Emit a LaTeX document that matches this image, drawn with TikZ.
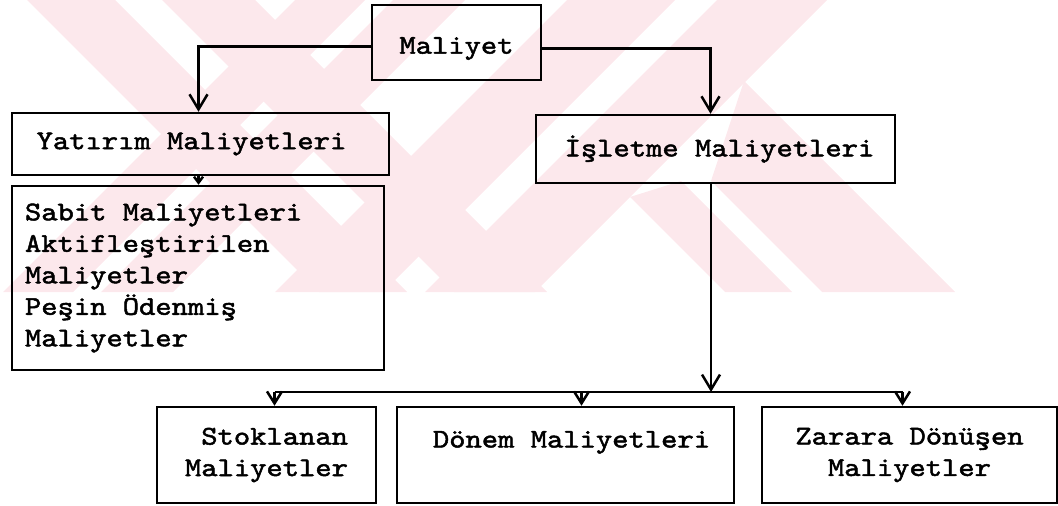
\documentclass[tikz,border=0pt]{standalone}
\usepackage{fontspec}
\newfontfamily\typewriter{lmmono10-regular.otf}[FakeStretch=1.15,FakeBold=1.8]
\usetikzlibrary{arrows.meta}
\definecolor{wmpink}{RGB}{252,232,236}
\begin{document}
\begin{tikzpicture}[x=1pt,y=-1pt,
  box/.style={draw, line width=2.5pt, inner sep=0pt,
    font=\typewriter\fontsize{27}{31.5}\selectfont},
  link/.style={line width=2.5pt},
  bigtip/.style={link,-{Straight Barb[length=15pt,width=18pt]}},
  midtip/.style={link,-{Straight Barb[length=12pt,width=15pt]}},
  smalltip/.style={link,-{Straight Barb[length=6pt,width=9pt]}}
]
\useasboundingbox (0,0) rectangle (1058,506);

% pale diagonal stripes in the upper band
\begin{scope}
  \clip (0,0) rectangle (1058,292);
  \foreach \a/\b in {27/115,162/255}
    \fill[wmpink] (\a,0) -- (\b,0) -- (\b+292,292) -- (\a+292,292) -- cycle;
  \foreach \c/\d in {295/365,393/465,567/675,717/827}
    \fill[wmpink] (\c,0) -- (\d,0) -- (\d-292,292) -- (\c-292,292) -- cycle;
  % lower arms leaving the right-hand stripe
  \fill[wmpink] (744,81) -- (955,292) -- (822,292) -- (711,181) -- cycle;
  \fill[wmpink] (681,181) -- (792,292) -- (725,292) -- (630,197) -- cycle;
\end{scope}

% boxes
\node[box, minimum width=169pt, minimum height=75pt] (mal) at (456.5,42.5)
  {\raisebox{-6pt}[\height][\depth]{Maliyet}};
\node[box, minimum width=377pt, minimum height=62pt] (yat) at (200.5,144) {\hspace*{-18pt}Yatırım Maliyetleri};
\node[box, minimum width=359pt, minimum height=68pt] (isl) at (715.5,149) {\hspace*{8pt}İşletme Maliyetleri};
\node[box, text width=346pt, inner xsep=13pt, minimum height=184pt, align=left] (sabit) at (198,278)
  {\spaceskip=0pt\xspaceskip=0pt
   Sabit Maliyetleri\\Aktifleştirilen\\Maliyetler\\Peşin Ödenmiş\\Maliyetler};
\node[box, minimum width=219pt, minimum height=96pt, align=right] (stok) at (266.5,455)
  {Stoklanan\\Maliyetler};
\node[box, minimum width=337pt, minimum height=96pt, align=center] (donem) at (565.5,455)
  {\hspace*{12pt}Dönem Maliyetleri\\~};
\node[box, minimum width=295pt, minimum height=96pt, align=center] (zarar) at (909.5,455)
  {Zarara Dönüşen\\Maliyetler};

% connectors
\coordinate (bus) at (711,392);
\draw[bigtip] ([yshift=-4pt]mal.west) -| ([xshift=-2pt]yat.north);
\draw[bigtip] ([yshift=-6pt]mal.east) -| ([xshift=-5pt]isl.north);
\draw[smalltip] ([xshift=-2pt]yat.south) -- ([xshift=-2pt]yat.south |- sabit.north);
\draw[bigtip] (bus |- isl.south) -- (bus);
\draw[link] ([xshift=8pt]stok.north |- bus) -- ([xshift=-7pt]zarar.north |- bus);
\draw[midtip] ([xshift=8pt]stok.north |- bus) -- ([xshift=8pt]stok.north);
\draw[midtip] ([xshift=16pt]donem.north |- bus) -- ([xshift=16pt]donem.north);
\draw[midtip] ([xshift=-7pt]zarar.north |- bus) -- ([xshift=-7pt]zarar.north);
\end{tikzpicture}
\end{document}
